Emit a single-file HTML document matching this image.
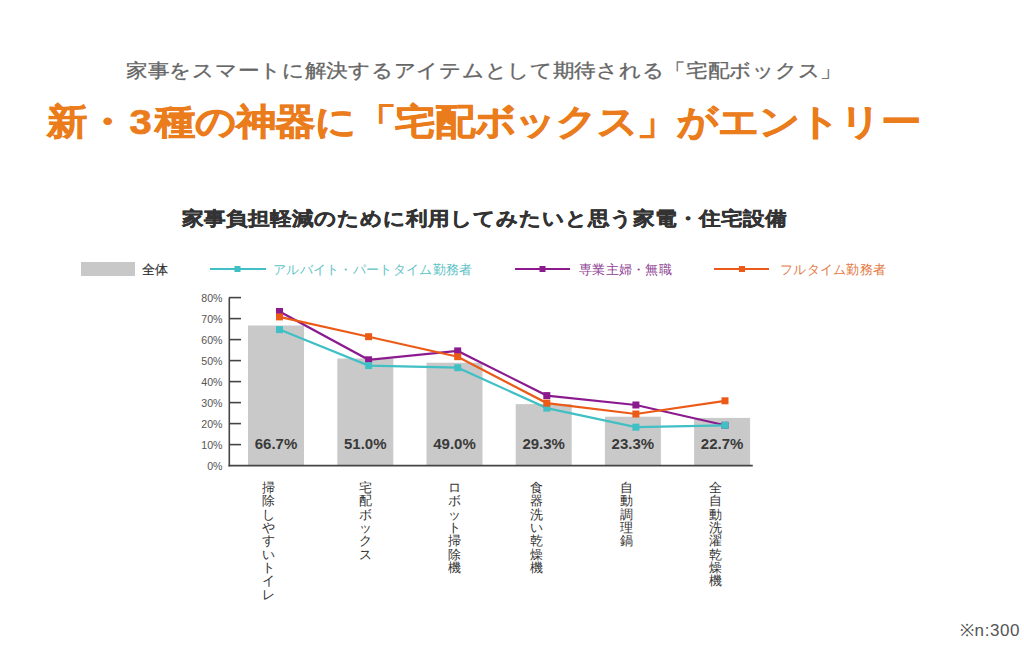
<!DOCTYPE html>
<html><head><meta charset="utf-8">
<style>
html,body{margin:0;padding:0;background:#fff;}
body{width:1024px;height:654px;position:relative;overflow:hidden;font-family:"Liberation Sans",sans-serif;}
.t{position:absolute;white-space:nowrap;line-height:1;}
#sub{left:126px;top:60px;font-size:22px;letter-spacing:-0.28px;color:#666;-webkit-text-stroke:0.35px #666;transform:scaleY(0.88);transform-origin:0 50%;}
#title{left:47px;top:101.5px;font-size:40px;letter-spacing:-0.32px;font-weight:bold;color:#eb7c1c;-webkit-text-stroke:0.8px #eb7c1c;transform:scaleY(0.89);transform-origin:0 50%;}
#ctitle{left:181.5px;top:208px;font-size:22px;font-weight:bold;color:#333;-webkit-text-stroke:0.4px #333;transform:scaleY(0.88);transform-origin:0 50%;}
.leg{font-size:13px;letter-spacing:0.3px;top:262.5px;}
.vl{position:absolute;font-size:13px;line-height:13.35px;width:13px;word-break:break-all;text-align:center;color:#333;top:481px;}
.yl{position:absolute;font-size:10.6px;line-height:11px;color:#555;text-align:right;width:30px;left:192.5px;margin-top:0.8px;}
.bl{position:absolute;font-size:15px;font-weight:bold;color:#3a3a3a;text-align:center;width:56px;top:436px;line-height:15px;}
#note{left:960px;top:622px;font-size:17px;letter-spacing:0.6px;color:#555;}
</style></head><body>
<div class="t" id="sub">家事をスマートに解決するアイテムとして期待される「宅配ボックス」</div>
<div class="t" id="title">新・<span style="margin-left:3px;margin-right:4px">3</span>種の神器に「宅配ボックス」がエントリー</div>
<div class="t" id="ctitle">家事負担軽減のために利用してみたいと思う家電・住宅設備</div>

<svg style="position:absolute;left:0;top:0" width="1024" height="654">
  <!-- legend -->
  <rect x="81" y="262" width="54" height="14" fill="#c8c8c8"/>
  <line x1="210" y1="269" x2="266" y2="269" stroke="#40c0c4" stroke-width="2"/>
  <rect x="234.5" y="266" width="6" height="6" fill="#40c0c4"/>
  <line x1="515" y1="269" x2="570" y2="269" stroke="#8b1a8f" stroke-width="2"/>
  <rect x="539.5" y="266" width="6" height="6" fill="#8b1a8f"/>
  <line x1="714" y1="269" x2="769" y2="269" stroke="#eb5a17" stroke-width="2"/>
  <rect x="739" y="266" width="6" height="6" fill="#eb5a17"/>
  <!-- bars -->
  <g fill="#c9c9c9">
    <rect x="248" y="325.5" width="56" height="140"/>
    <rect x="337.3" y="358.5" width="56" height="107"/>
    <rect x="426.5" y="362.7" width="56" height="103"/>
    <rect x="515.7" y="404.1" width="56" height="61.5"/>
    <rect x="604.9" y="416.7" width="56" height="48.9"/>
    <rect x="694.1" y="417.9" width="56" height="47.7"/>
  </g>
  <!-- axes -->
  <g stroke="#444" stroke-width="1.6">
    <line x1="229.3" y1="297.6" x2="229.3" y2="466.4"/>
    <line x1="228.5" y1="465.6" x2="752.8" y2="465.6"/>
    <line x1="229" y1="297.6" x2="241" y2="297.6"/>
    <line x1="229" y1="318.6" x2="241" y2="318.6"/>
    <line x1="229" y1="339.6" x2="241" y2="339.6"/>
    <line x1="229" y1="360.6" x2="241" y2="360.6"/>
    <line x1="229" y1="381.6" x2="241" y2="381.6"/>
    <line x1="229" y1="402.6" x2="241" y2="402.6"/>
    <line x1="229" y1="423.6" x2="241" y2="423.6"/>
    <line x1="229" y1="444.6" x2="241" y2="444.6"/>
  </g>
  <!-- purple -->
  <polyline fill="none" stroke="#8b1a8f" stroke-width="2.2" points="279.5,311.5 368.6,359.8 457.7,350.9 546.8,395.6 635.9,405 725,425.3"/>
  <g fill="#8b1a8f">
    <rect x="276" y="308" width="7" height="7"/>
    <rect x="365.1" y="356.3" width="7" height="7"/>
    <rect x="454.2" y="347.4" width="7" height="7"/>
    <rect x="543.3" y="392.1" width="7" height="7"/>
    <rect x="632.4" y="401.5" width="7" height="7"/>
    <rect x="721.5" y="421.8" width="7" height="7"/>
  </g>
  <!-- teal -->
  <polyline fill="none" stroke="#40c0c4" stroke-width="2.2" points="279.5,329.6 368.6,365.6 457.7,367.7 546.8,408.1 635.9,427.2 725,425.3"/>
  <g fill="#40c0c4">
    <rect x="276" y="326.1" width="7" height="7"/>
    <rect x="365.1" y="362.1" width="7" height="7"/>
    <rect x="454.2" y="364.2" width="7" height="7"/>
    <rect x="543.3" y="404.6" width="7" height="7"/>
    <rect x="632.4" y="423.7" width="7" height="7"/>
    <rect x="721.5" y="421.8" width="7" height="7"/>
  </g>
  <!-- orange -->
  <polyline fill="none" stroke="#eb5a17" stroke-width="2.2" points="279.5,316.9 368.6,336.7 457.7,356.7 546.8,403.1 635.9,414 725,400.8"/>
  <g fill="#eb5a17">
    <rect x="276" y="313.4" width="7" height="7"/>
    <rect x="365.1" y="333.2" width="7" height="7"/>
    <rect x="454.2" y="353.2" width="7" height="7"/>
    <rect x="543.3" y="399.6" width="7" height="7"/>
    <rect x="632.4" y="410.5" width="7" height="7"/>
    <rect x="721.5" y="397.3" width="7" height="7"/>
  </g>
</svg>

<div class="t leg" style="left:142px;color:#333;-webkit-text-stroke:0.2px #333;">全体</div>
<div class="t leg" style="left:273px;color:#5fc3c6;">アルバイト・パートタイム勤務者</div>
<div class="t leg" style="left:579px;color:#8e3f93;">専業主婦・無職</div>
<div class="t leg" style="left:780px;color:#e37a45;">フルタイム勤務者</div>

<div class="yl" style="top:292.6px">80%</div>
<div class="yl" style="top:313.6px">70%</div>
<div class="yl" style="top:334.6px">60%</div>
<div class="yl" style="top:355.6px">50%</div>
<div class="yl" style="top:376.6px">40%</div>
<div class="yl" style="top:397.6px">30%</div>
<div class="yl" style="top:418.6px">20%</div>
<div class="yl" style="top:439.6px">10%</div>
<div class="yl" style="top:460.6px">0%</div>

<div class="bl" style="left:248px">66.7%</div>
<div class="bl" style="left:337.3px">51.0%</div>
<div class="bl" style="left:426.5px">49.0%</div>
<div class="bl" style="left:515.7px">29.3%</div>
<div class="bl" style="left:604.9px">23.3%</div>
<div class="bl" style="left:694.1px">22.7%</div>

<div class="vl" style="left:262.4px">掃除しやすいトイレ</div>
<div class="vl" style="left:358.5px">宅配ボックス</div>
<div class="vl" style="left:447.5px">ロボット掃除機</div>
<div class="vl" style="left:530.3px">食器洗い乾燥機</div>
<div class="vl" style="left:620px">自動調理鍋</div>
<div class="vl" style="left:709px">全自動洗濯乾燥機</div>

<div class="t" id="note">※n:300</div>
</body></html>
